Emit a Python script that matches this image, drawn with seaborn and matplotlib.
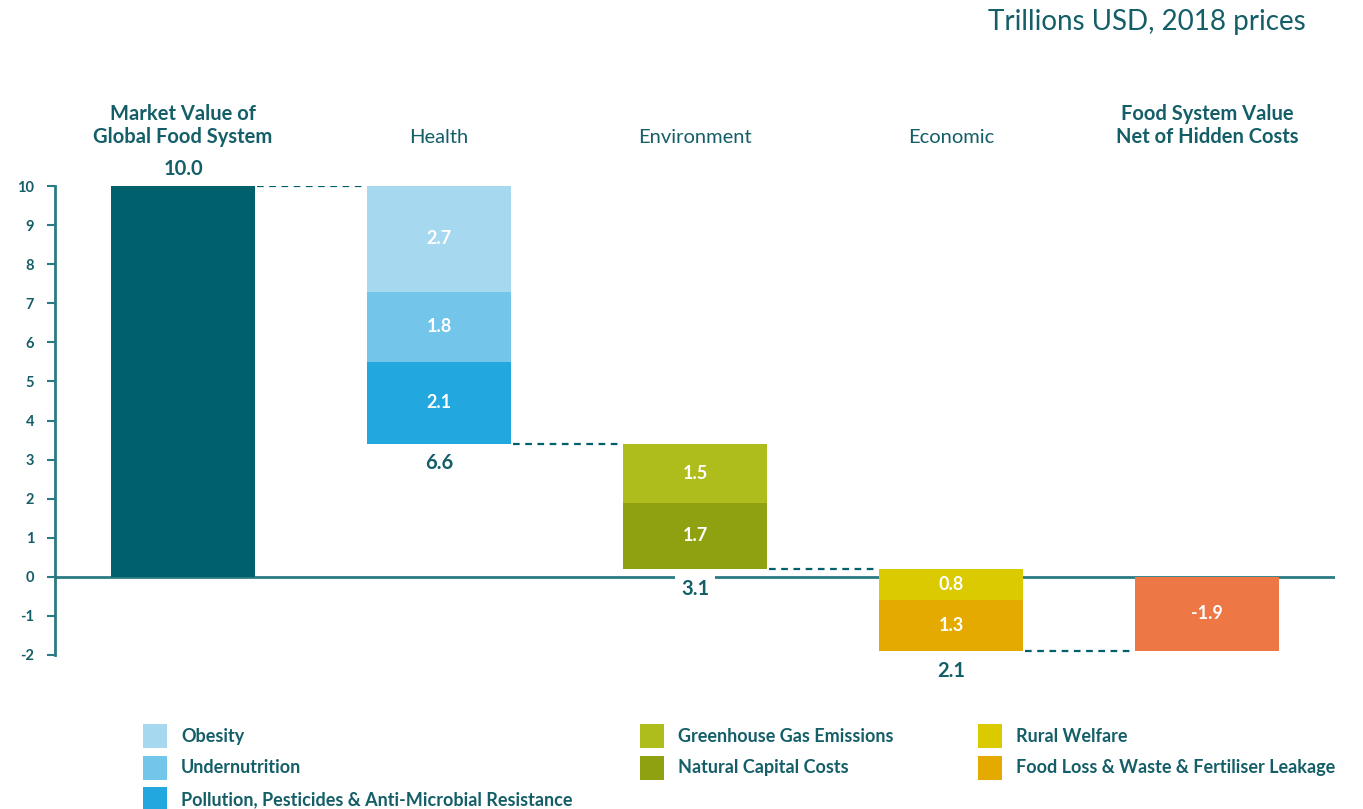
import matplotlib
matplotlib.use("Agg")
import matplotlib.pyplot as plt
import seaborn as sns
from matplotlib.patches import Patch

# ---- data (trillions USD, 2018 prices) ----
groups = ["Market Value of\nGlobal Food System", "Health", "Environment",
          "Economic", "Food System Value\nNet of Hidden Costs"]
market_value = 10.0
health_labels = ["Obesity", "Undernutrition",
                 "Pollution, Pesticides & Anti-Microbial Resistance"]
health_costs = [2.7, 1.8, 2.1]
env_labels = ["Greenhouse Gas Emissions", "Natural Capital Costs"]
env_costs = [1.5, 1.7]
econ_labels = ["Rural Welfare", "Food Loss & Waste & Fertiliser Leakage"]
econ_costs = [0.8, 1.3]
group_totals = ["6.6", "3.1", "2.1"]
net_value = -1.9
yticks = list(range(-2, 11))

# ---- colours ----
teal = "#00606b"
text_col = "#145e68"
axis_col = "#2a7a83"
health_colors = ["#a6d8f0", "#74c5ea", "#23a7df"]
env_colors = ["#aebd1b", "#8fa111"]
econ_colors = ["#dcca00", "#e4aa00"]
net_color = "#ed7745"

sns.set_theme(style="white")
plt.rcParams["font.family"] = ["Lato", "DejaVu Sans"]

fig = plt.figure(figsize=(13.63, 8.09), dpi=100)
ax = fig.add_axes([55 / 1363, 1 - 655 / 809, 1280 / 1363, 469 / 809])

width = 0.56
bar_kw = dict(width=width, edgecolor="none", linewidth=0, zorder=3)
ax.bar(0, market_value, color=teal, **bar_kw)
ax.text(0, market_value + 0.43, f"{market_value:.1f}", ha="center", va="center",
        fontsize=14.5, fontweight="bold", color=text_col)

level = market_value
tops = [market_value]
for gi, (costs, colors) in enumerate([(health_costs, health_colors),
                                       (env_costs, env_colors),
                                       (econ_costs, econ_colors)], start=1):
    for v, c in zip(costs, colors):
        ax.bar(gi, -v, bottom=level, color=c, **bar_kw)
        ax.text(gi, level - v / 2, f"{v:.1f}", ha="center", va="center",
                fontsize=13, fontweight="bold", color="white", zorder=4)
        level = round(level - v, 6)
    tops.append(level)
    lab_kw = {}
    if gi == 2:
        lab_kw = dict(bbox=dict(facecolor="white", edgecolor="none", pad=4))
    ax.text(gi, level - 0.5, group_totals[gi - 1], ha="center", va="center",
            fontsize=14.5, fontweight="bold", color=text_col, zorder=5, **lab_kw)

ax.bar(4, net_value, color=net_color, **bar_kw)
ax.text(4, net_value / 2, f"{net_value:.1f}", ha="center", va="center",
        fontsize=13, fontweight="bold", color="white", zorder=4)

# dashed connectors between consecutive bars
for i, lvl in enumerate(tops):
    ax.plot([i + width / 2 + 0.01, i + 1 - width / 2 - 0.01], [lvl, lvl],
            linestyle=(0, (3, 2.5)), color=teal, linewidth=1.6, zorder=2)

# zero line and left axis
ax.axhline(0, color=axis_col, linewidth=2, zorder=1)
ax.set_xlim(-0.5, 4.5)
ax.set_ylim(-2, 10)
ax.set_yticks(yticks)
ax.set_yticklabels([str(t) for t in yticks])
ax.set_xticks([])
for s in ["top", "right", "bottom"]:
    ax.spines[s].set_visible(False)
ax.spines["left"].set_color(axis_col)
ax.spines["left"].set_linewidth(2)
ax.tick_params(axis="y", left=True, length=6, width=1.5, color=axis_col, pad=9,
               labelsize=10.5, labelcolor=text_col)
for t in ax.get_yticklabels():
    t.set_fontweight("bold")

# column headings
for i, g in enumerate(groups):
    two_line = "\n" in g
    ax.text(i, 11.55 if two_line else 11.24, g, ha="center", va="center",
            fontsize=14.5, fontweight="bold" if i in (0, 4) else "normal",
            color=text_col, linespacing=1.2)

fig.text(1306 / 1363, 1 - 22 / 809, "Trillions USD, 2018 prices", ha="right",
         va="center", fontsize=20, color=text_col)

# legend, one column per cost category
columns = [(health_labels, health_colors, 143),
           (env_labels, env_colors, 640),
           (econ_labels, econ_colors, 978)]
for labels, colors, xpx in columns:
    handles = [Patch(facecolor=c, edgecolor="none") for c in colors]
    leg = fig.legend(handles, labels, loc="upper left",
                     bbox_to_anchor=(xpx / 1363, 1 - 724 / 809),
                     frameon=False, borderpad=0, borderaxespad=0,
                     fontsize=13, handlelength=1.33, handleheight=1.67,
                     handletextpad=0.78, labelspacing=0.42)
    for t in leg.get_texts():
        t.set_color(text_col)
        t.set_fontweight("bold")

fig.savefig("out.png", dpi=100, facecolor="white")
